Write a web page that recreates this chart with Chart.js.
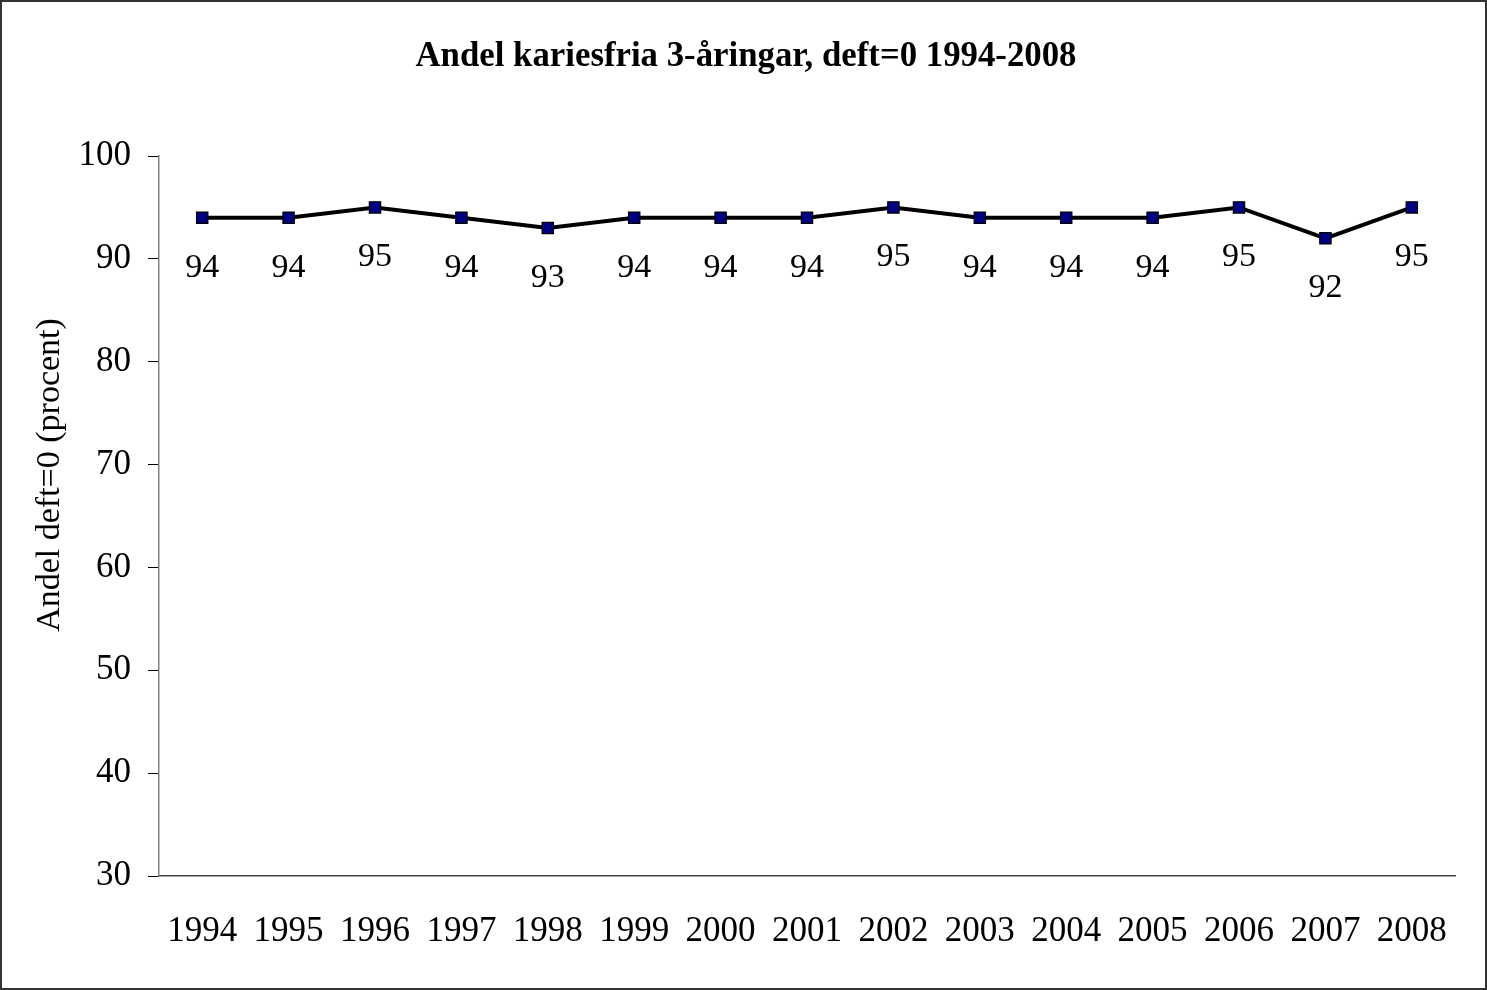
<!DOCTYPE html>
<html>
<head>
<meta charset="utf-8">
<script src="https://cdn.jsdelivr.net/npm/chart.js@4.4.1/dist/chart.umd.min.js"></script>
<style>
  html, body { margin: 0; padding: 0; background: #fff; }
  #wrap { width: 1487px; height: 990px; position: relative; }
</style>
</head>
<body>
<div id="wrap"><canvas id="c" width="1487" height="990"></canvas></div>
<script>
const years = ["1994","1995","1996","1997","1998","1999","2000","2001","2002","2003","2004","2005","2006","2007","2008"];
const share = [94, 94, 95, 94, 93, 94, 94, 94, 95, 94, 94, 94, 95, 92, 95];
const yTicks = [30, 40, 50, 60, 70, 80, 90, 100];
const titleText = "Andel kariesfria 3-åringar, deft=0 1994-2008";
const yTitle = "Andel deft=0 (procent)";

const SERIF = "'Liberation Serif', 'Times New Roman', serif";

const frame = {
  id: 'frame',
  beforeDraw(chart) {
    const ctx = chart.ctx;
    ctx.save();
    ctx.fillStyle = '#fff';
    ctx.fillRect(0, 0, chart.width, chart.height);
    ctx.restore();
  },
  afterDraw(chart) {
    const ctx = chart.ctx;
    ctx.save();
    ctx.strokeStyle = '#333';
    ctx.lineWidth = 2;
    ctx.strokeRect(1, 1, chart.width - 2, chart.height - 2);
    ctx.restore();
  }
};

const drawTexts = {
  id: 'drawTexts',
  afterDraw(chart) {
    const ctx = chart.ctx;
    ctx.save();
    ctx.fillStyle = '#000';
    ctx.font = "bold 36px " + SERIF;
    ctx.textAlign = 'center';
    ctx.textBaseline = 'middle';
    ctx.translate(746, 57);
    const w = ctx.measureText(titleText).width;
    ctx.scale(661 / w, 1);
    ctx.fillText(titleText, 0, 0);
    ctx.restore();

    ctx.save();
    ctx.fillStyle = '#000';
    ctx.font = "34px " + SERIF;
    ctx.textAlign = 'center';
    ctx.textBaseline = 'middle';
    ctx.translate(50, 475);
    ctx.rotate(-Math.PI / 2);
    ctx.fillText(yTitle, 0, 0);
    ctx.restore();

    const meta = chart.getDatasetMeta(0);
    ctx.save();
    ctx.fillStyle = '#000';
    ctx.font = "34px " + SERIF;
    ctx.textAlign = 'center';
    ctx.textBaseline = 'middle';
    meta.data.forEach((pt, i) => {
      ctx.fillText(String(share[i]), pt.x, pt.y + 50);
    });
    ctx.restore();
  }
};

new Chart(document.getElementById('c'), {
  type: 'line',
  data: {
    labels: years,
    datasets: [{
      data: share,
      borderColor: '#000',
      borderWidth: 4,
      pointStyle: 'rect',
      pointRadius: 8,
      pointBackgroundColor: '#000080',
      pointBorderColor: '#000',
      pointBorderWidth: 1.2,
      tension: 0,
      fill: false
    }]
  },
  options: {
    responsive: false,
    animation: false,
    events: [],
    layout: { padding: { top: 156, right: 32, left: 0, bottom: 0 } },
    plugins: {
      legend: { display: false },
      title: { display: false },
      tooltip: { enabled: false }
    },
    scales: {
      x: {
        offset: true,
        grid: { display: true, drawOnChartArea: false, drawTicks: false, offset: true, color: 'rgba(0,0,0,0)' },
        border: { display: true, color: '#444', width: 1.5 },
        ticks: {
          color: '#000',
          font: { family: SERIF, size: 35 },
          padding: 35,
          maxRotation: 0,
          autoSkip: false
        },
        afterFit(s) { s.height = 114; }
      },
      y: {
        min: 30,
        max: 100,
        afterBuildTicks(s) { s.ticks = yTicks.map(v => ({ value: v })); },
        grid: { display: true, drawOnChartArea: false, drawTicks: true, tickLength: 11, color: '#000' },
        border: { display: true, color: '#808080', width: 1.5 },
        ticks: {
          color: '#000',
          font: { family: SERIF, size: 35 },
          padding: 17
        },
        afterFit(s) { s.width = 159; }
      }
    }
  },
  plugins: [frame, drawTexts]
});
</script>
</body>
</html>
